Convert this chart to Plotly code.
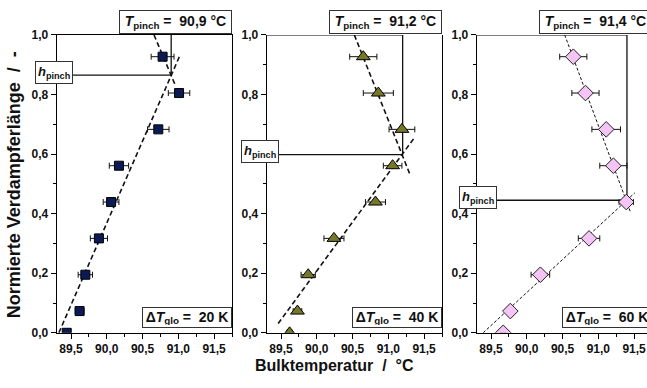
import plotly.graph_objects as go

# Normalised evaporator length (shared by all three runs)
h_pos = [0.0, 0.073, 0.195, 0.317, 0.439, 0.561, 0.683, 0.805, 0.927]

# Bulk temperature and its uncertainty per run (°C)
t20 = [89.44, 89.62, 89.70, 89.89, 90.06, 90.17, 90.72, 91.01, 90.78]
e20 = [0.05, 0.06, 0.10, 0.12, 0.11, 0.135, 0.15, 0.15, 0.16]
t40 = [89.62, 89.73, 89.88, 90.24, 90.82, 91.06, 91.19, 90.86, 90.65]
e40 = [0.04, 0.06, 0.10, 0.14, 0.14, 0.13, 0.18, 0.21, 0.19]
t60 = [89.67, 89.77, 90.19, 90.87, 91.39, 91.21, 91.11, 90.82, 90.65]
e60 = [0.04, 0.05, 0.13, 0.15, 0.10, 0.19, 0.20, 0.19, 0.19]

# Pinch point (intersection of both linear regions)
t_pinch = [90.9, 91.2, 91.4]
h_pinch = [0.865, 0.598, 0.445]
dt_glo = [20, 40, 60]

# Linear fits: lower (single-phase) and upper (two-phase) segments
fit_lo_x = [[89.33, 91.02], [89.46, 91.37], [89.39, 91.51]]
fit_lo_y = [[0.0, 0.93], [0.031, 0.657], [0.0, 0.47]]
fit_up_x = [[90.66, 90.96], [90.525, 91.31], [90.53, 91.45]]
fit_up_y = [[1.0, 0.83], [1.0, 0.527], [1.0, 0.405]]

W, H = 647, 388
x_left_px = [56.7, 266.7, 476.7]
panel_w_px = 175.3
x_ranges = [[89.3, 91.75], [89.3, 91.75], [89.3, 89.3 + (W - 476.7) / (panel_w_px / 2.45)]]
y_dom = [1 - 338 / H, 1 - 29 / H]

series = [t20, t40, t60]
errors = [e20, e40, e60]
markers = [
    dict(symbol="square", size=9, color="#0b1a55", line=dict(color="#000000", width=1)),
    dict(symbol="triangle-up", size=12, color="#77772a", line=dict(color="#000000", width=1)),
    dict(symbol="diamond", size=12, color="#f4c4f4", line=dict(color="#222222", width=1)),
]
fit_styles = [
    dict(color="#111111", width=1.6, dash="5px,3px"),
    dict(color="#111111", width=1.6, dash="5px,3px"),
    dict(color="#111111", width=1.0, dash="3px,2px"),
]

fig = go.Figure()
font_fam = "Liberation Sans, Arial, sans-serif"

for i in range(3):
    xa = "x" if i == 0 else f"x{i+1}"
    ya = "y" if i == 0 else f"y{i+1}"
    # pinch drop lines
    fig.add_trace(go.Scatter(x=[t_pinch[i], t_pinch[i]], y=[h_pinch[i], 1.0], mode="lines",
                             line=dict(color="#111111", width=1.3), xaxis=xa, yaxis=ya,
                             showlegend=False, hoverinfo="skip"))
    fig.add_trace(go.Scatter(x=[x_ranges[i][0], t_pinch[i]], y=[h_pinch[i], h_pinch[i]], mode="lines",
                             line=dict(color="#111111", width=1.3), xaxis=xa, yaxis=ya,
                             showlegend=False, hoverinfo="skip"))
    # regression lines
    fig.add_trace(go.Scatter(x=fit_lo_x[i], y=fit_lo_y[i], mode="lines", line=fit_styles[i],
                             xaxis=xa, yaxis=ya, showlegend=False, hoverinfo="skip"))
    fig.add_trace(go.Scatter(x=fit_up_x[i], y=fit_up_y[i], mode="lines", line=fit_styles[i],
                             xaxis=xa, yaxis=ya, showlegend=False, hoverinfo="skip"))
    # measurements with x error bars
    fig.add_trace(go.Scatter(x=series[i], y=h_pos, mode="markers", marker=markers[i],
                             error_x=dict(type="data", array=errors[i], color="#111111",
                                          thickness=1, width=3),
                             xaxis=xa, yaxis=ya, showlegend=False))

axis_common = dict(showline=True, linecolor="#000000", linewidth=1, ticks="outside",
                   ticklen=5, tickwidth=1, tickcolor="#000000", showgrid=False, zeroline=False,
                   tickfont=dict(family=font_fam, size=12, color="#111111", weight="bold"))

layout = dict(width=W, height=H, margin=dict(l=0, r=0, t=0, b=0), plot_bgcolor="white",
              paper_bgcolor="white", separators=",.", showlegend=False)

for i in range(3):
    xk = "xaxis" if i == 0 else f"xaxis{i+1}"
    yk = "yaxis" if i == 0 else f"yaxis{i+1}"
    x0 = x_left_px[i] / W
    x1 = min((x_left_px[i] + panel_w_px) / W, 1.0)
    layout[xk] = dict(axis_common, domain=[x0, x1], range=x_ranges[i], tick0=89.5, dtick=0.5,
                      tickformat=".1f", anchor="y" if i == 0 else f"y{i+1}",
                      mirror=(i == 0),
                      minor=dict(dtick=0.25, ticks="outside", ticklen=3, tickcolor="#000000"))
    layout[yk] = dict(axis_common, domain=y_dom, range=[0, 1.0], tick0=0, dtick=0.2,
                      tickformat=".1f", anchor="x" if i == 0 else f"x{i+1}",
                      mirror=(i < 2),
                      minor=dict(dtick=0.1, ticks="outside", ticklen=3, tickcolor="#000000"))

fig.update_layout(**layout)

# top frame line for panels 2 and 3 (ends at the pinch line)
for i in (1, 2):
    xa = f"x{i+1}"
    ya = f"y{i+1}"
    fig.add_trace(go.Scatter(x=[x_ranges[i][0], t_pinch[i]], y=[1.0, 1.0], mode="lines",
                             line=dict(color="#000000", width=1.2), xaxis=xa, yaxis=ya,
                             cliponaxis=False, showlegend=False, hoverinfo="skip"))

box = dict(showarrow=False, bgcolor="white", bordercolor="#333333", borderwidth=1, borderpad=2,
           font=dict(family=font_fam, size=14, color="#111111"))
t_box_cx = [175.5, 385.5, 595.5]
h_box_cx = [53.5, 260.0, 478.3]
dt_box_cx = [187.0, 397.0, 607.0]
for i in range(3):
    ya = "y" if i == 0 else f"y{i+1}"
    t_txt = f"{t_pinch[i]:.1f}".replace(".", ",")
    fig.add_annotation(box, x=t_box_cx[i] / W, y=1 - 16 / H, xref="paper", yref="paper",
                       xanchor="center", yanchor="middle", width=107, height=18,
                       text=f"<b><i>T</i><sub>pinch</sub> =  {t_txt} °C</b>")
    fig.add_annotation(box, x=h_box_cx[i] / W, y=h_pinch[i], xref="paper", yref=ya,
                       xanchor="center", yanchor="middle", yshift=3,
                       font=dict(family=font_fam, size=13, color="#111111"),
                       text="<b><i>h</i><sub>pinch</sub></b>")
    fig.add_annotation(box, x=dt_box_cx[i] / W, y=1 - 322 / H, xref="paper", yref="paper",
                       xanchor="center", yanchor="middle", width=84, height=15,
                       text=f"<b>Δ<i>T</i><sub>glo</sub> =  {dt_glo[i]} K</b>")

# axis titles
fig.add_annotation(x=14 / W, y=1 - 185 / H, xref="paper", yref="paper", showarrow=False,
                   textangle=-90, text="<b>Normierte Verdampferlänge  /  -</b>",
                   font=dict(family=font_fam, size=18, color="#111111"),
                   xanchor="center", yanchor="middle")
fig.add_annotation(x=334 / W, y=1 - 372 / H, xref="paper", yref="paper", showarrow=False,
                   text="<b>Bulktemperatur  /  °C</b>",
                   font=dict(family=font_fam, size=16, color="#111111"),
                   xanchor="center", yanchor="middle")

fig.write_html("out.html")
